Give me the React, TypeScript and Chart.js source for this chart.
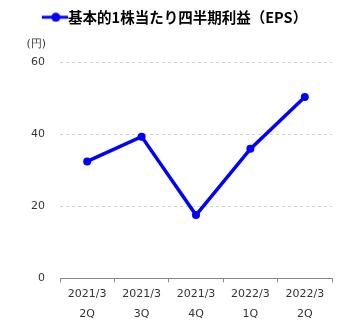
import React, { useEffect, useRef } from "react";
import { Chart, registerables } from "chart.js";

Chart.register(...registerables);

const categories: string[][] = [
  ["2021/3", "2Q"],
  ["2021/3", "3Q"],
  ["2021/3", "4Q"],
  ["2022/3", "1Q"],
  ["2022/3", "2Q"],
];
const epsValues: number[] = [32.5, 39.4, 17.6, 36.0, 50.4];
const seriesLabel = "基本的1株当たり四半期利益（EPS）";
const unitLabel = "(円)";
const yTicks: number[] = [0, 20, 40, 60];

const FONT = "Verdana, 'DejaVu Sans', sans-serif";
const LEGEND_FONT = "'Noto Sans CJK JP', sans-serif";

function makeLegendIcon(): HTMLCanvasElement {
  const c = document.createElement("canvas");
  c.width = 42;
  c.height = 10;
  const ctx = c.getContext("2d")!;
  ctx.strokeStyle = "#0000ff";
  ctx.lineWidth = 3;
  ctx.beginPath();
  ctx.moveTo(16, 5);
  ctx.lineTo(42, 5);
  ctx.stroke();
  ctx.fillStyle = "#0000ff";
  ctx.beginPath();
  ctx.arc(30, 5, 4.5, 0, Math.PI * 2);
  ctx.fill();
  return c;
}

const unitPlugin = {
  id: "unitLabel",
  afterDraw(chart: any) {
    const y = chart.scales.y;
    const ctx = chart.ctx;
    ctx.save();
    ctx.font = `11px ${FONT}`;
    ctx.fillStyle = "#333";
    ctx.textAlign = "right";
    ctx.textBaseline = "middle";
    ctx.fillText(unitLabel, y.right - 14, y.top - 18);
    ctx.restore();
  },
};

const legendSpacer = {
  id: "legendSpacer",
  beforeInit(chart: any) {
    const orig = chart.legend.fit;
    chart.legend.fit = function () {
      orig.call(this);
      this.height += 28;
    };
  },
};

export default function App() {
  const ref = useRef<HTMLCanvasElement>(null);
  useEffect(() => {
    if (!ref.current) return;
    const icon = makeLegendIcon();
    const chart = new Chart(ref.current, {
      type: "line",
      data: {
        labels: categories,
        datasets: [
          {
            label: seriesLabel,
            data: epsValues,
            borderColor: "#0000ff",
            backgroundColor: "#0000ff",
            borderWidth: 3.5,
            pointRadius: 4,
            pointBackgroundColor: "#0000ff",
            pointBorderWidth: 0,
            tension: 0,
            pointStyle: "circle",
          },
        ],
      },
      options: {
        animation: false,
        responsive: true,
        maintainAspectRatio: false,
        layout: { padding: { left: 8, right: 13, top: 2, bottom: 4 } },
        plugins: {
          legend: {
            display: true,
            position: "top",
            labels: {
              usePointStyle: true,
              pointStyleWidth: 28,
              boxHeight: 10,
              font: { family: LEGEND_FONT, size: 14.5, weight: "bold" },
              color: "#000",
              padding: 8,
              generateLabels: () => [
                {
                  text: seriesLabel,
                  pointStyle: icon as any,
                  fillStyle: "#0000ff",
                  strokeStyle: "#0000ff",
                  lineWidth: 0,
                  hidden: false,
                  datasetIndex: 0,
                } as any,
              ],
            },
          },
          tooltip: { enabled: false },
        },
        scales: {
          x: {
            offset: true,
            grid: {
              offset: true,
              drawOnChartArea: false,
              drawTicks: true,
              tickLength: 4,
              color: "#888",
            },
            border: { display: true, color: "#888", width: 1 },
            ticks: {
              color: "#333",
              font: { family: FONT, size: 11, lineHeight: 1.8 },
              maxRotation: 0,
              padding: 2,
            },
          },
          y: {
            min: 0,
            max: 60,
            afterBuildTicks: (s: any) => {
              s.ticks = yTicks.map((v) => ({ value: v }));
            },
            afterFit: (s: any) => {
              s.width = 52;
            },
            grid: {
              drawTicks: false,
              color: (c: any) => (c.tick && c.tick.value === 0 ? "rgba(0,0,0,0)" : "#d0d0d0"),
              lineWidth: 1,
            },
            border: { display: false, dash: [3, 3] },
            ticks: {
              color: "#333",
              font: { family: FONT, size: 11 },
              padding: 15,
            },
          },
        },
      },
      plugins: [unitPlugin, legendSpacer],
    });
    return () => chart.destroy();
  }, []);
  return (
    <div style={{ position: "absolute", left: 0, top: 0, width: 345, height: 330 }}>
      <canvas ref={ref} />
    </div>
  );
}
